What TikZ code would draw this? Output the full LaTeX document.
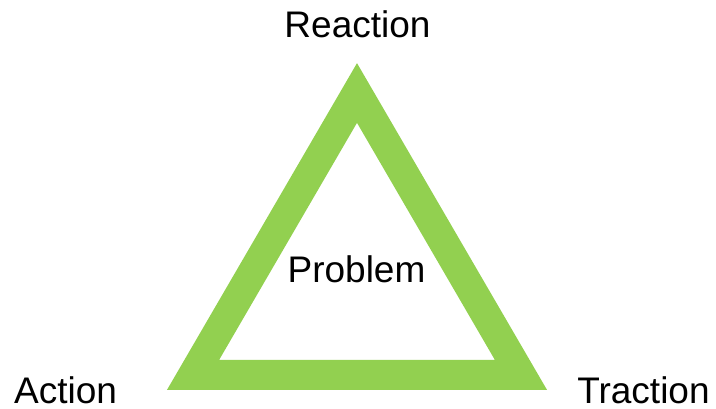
\documentclass[tikz,border=0pt]{standalone}
\usepackage{fontspec}
\setmainfont{Liberation Sans}
\usepackage{tikz}
\usetikzlibrary{positioning}
\definecolor{ProbGreen}{HTML}{92D050}

\begin{document}
\begin{tikzpicture}[x=1pt, y=1pt,
  corner/.style={font=\fontsize{37}{44}\selectfont, anchor=base, inner sep=0pt, text depth=0pt}]
\useasboundingbox (0,0) rectangle (716,409);

% Corners of the triangle
\coordinate (top) at (357,316);
\coordinate (left) at (193,34);
\coordinate (right) at (521,34);

% Triangle
\draw[ProbGreen, line width=30pt, line join=miter] (top) -- (left) -- (right) -- cycle;

% Labels
\node[corner] (reaction) at (357.5,371) {Reaction};
\node[corner] (action) at (65.5,5) {Action};
\node[corner] (traction) at (643.5,5) {Traction};
\node[corner] (problem) at (356.5,126) {Problem};
\end{tikzpicture}
\end{document}
